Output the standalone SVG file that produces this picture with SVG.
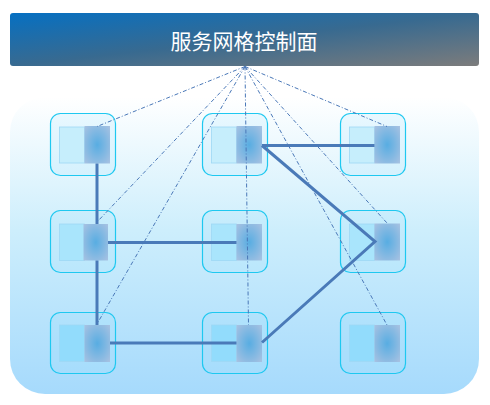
<svg xmlns="http://www.w3.org/2000/svg" width="490" height="405" viewBox="0 0 490 405">
  <defs>
    <linearGradient id="hdr" x1="0" y1="0" x2="1" y2="1">
      <stop offset="0" stop-color="#0670c2"/>
      <stop offset="0.5" stop-color="#386a90"/>
      <stop offset="1" stop-color="#7c7c7c"/>
    </linearGradient>
    <linearGradient id="panel" x1="0" y1="0" x2="0" y2="1">
      <stop offset="0" stop-color="#ffffff"/>
      <stop offset="0.45" stop-color="#cdeefc"/>
      <stop offset="1" stop-color="#a6dafc"/>
    </linearGradient>
    <radialGradient id="dark" cx="0.5" cy="0.5" r="0.7">
      <stop offset="0" stop-color="#58ade2"/>
      <stop offset="1" stop-color="#a8c2e2"/>
    </radialGradient>
    <filter id="shadow" x="-5%" y="-100%" width="110%" height="400%">
      <feDropShadow dx="0" dy="1.5" stdDeviation="1.2" flood-color="#555" flood-opacity="0.5"/>
    </filter>
  </defs>
  <style>
    .outer { fill: #8fe0ff; fill-opacity: 0.15; stroke: #1ec8f0; stroke-width: 1.2; }
    .light { stroke: #9ed8f4; stroke-width: 0.8; }
    .r1 { fill: #c6eefc; }
    .r2 { fill: #a9e5fc; }
    .r3 { fill: #92dcfc; }
    .dark { fill: url(#dark); }
    .solid { stroke: #4a7ab8; stroke-width: 3; fill: none; stroke-linejoin: miter; }
    .dash { stroke: #4a78b8; stroke-width: 1; fill: none; stroke-dasharray: 4 2 1 2; }
    .title { font-family: "Noto Sans CJK SC", "Noto Sans", sans-serif; font-size: 21px; fill: #ffffff; }
  </style>

  <g id="header">
    <rect x="10" y="13" width="469" height="53" rx="3" fill="url(#hdr)"/>
    <text class="title" x="244" y="48.5" text-anchor="middle">服务网格控制面</text>
  </g>

  <rect id="panel-bg" x="10" y="97" width="469" height="297" rx="35" fill="url(#panel)"/>

  <g id="node-0-0">
    <rect class="outer" x="50.5" y="113.5" width="65" height="62" rx="10"/>
    <rect class="light r1" x="59.5" y="127" width="25" height="36"/>
    <rect class="dark" x="84.5" y="126" width="25.5" height="37.5"/>
  </g>
  <g id="node-1-0">
    <rect class="outer" x="202.5" y="113.5" width="65" height="62" rx="10"/>
    <rect class="light r1" x="211.5" y="127" width="25" height="36"/>
    <rect class="dark" x="236.5" y="126" width="25.5" height="37.5"/>
  </g>
  <g id="node-2-0">
    <rect class="outer" x="340.5" y="113.5" width="65" height="62" rx="10"/>
    <rect class="light r1" x="349.5" y="127" width="25" height="36"/>
    <rect class="dark" x="374.5" y="126" width="25.5" height="37.5"/>
  </g>

  <g id="node-0-1">
    <rect class="outer" x="50.5" y="210.5" width="65" height="62" rx="10"/>
    <rect class="light r2" x="59.5" y="224" width="25" height="36.5"/>
    <rect class="dark" x="83.5" y="224" width="24.5" height="36.5"/>
  </g>
  <g id="node-1-1">
    <rect class="outer" x="202.5" y="210.5" width="65" height="62" rx="10"/>
    <rect class="light r2" x="211.5" y="224" width="25" height="36.5"/>
    <rect class="dark" x="236.5" y="224" width="25.5" height="36.5"/>
  </g>
  <g id="node-2-1">
    <rect class="outer" x="340.5" y="210.5" width="65" height="62" rx="10"/>
    <rect class="light r2" x="349.5" y="224" width="25" height="36.5"/>
    <rect class="dark" x="374.5" y="223.5" width="25.5" height="37"/>
  </g>

  <g id="node-0-2">
    <rect class="outer" x="50.5" y="312.5" width="65" height="61" rx="10"/>
    <rect class="light r3" x="59.5" y="325" width="25" height="36.5"/>
    <rect class="dark" x="84.5" y="325" width="25.5" height="37"/>
  </g>
  <g id="node-1-2">
    <rect class="outer" x="202.5" y="312.5" width="65" height="61" rx="10"/>
    <rect class="light r3" x="211.5" y="325" width="25" height="36.5"/>
    <rect class="dark" x="236.5" y="325" width="25.5" height="37"/>
  </g>
  <g id="node-2-2">
    <rect class="outer" x="340.5" y="312.5" width="65" height="61" rx="10"/>
    <rect class="light r3" x="349.5" y="325" width="25" height="36.5"/>
    <rect class="dark" x="374.5" y="325" width="25.5" height="37"/>
  </g>

  <g id="connectors">
    <line class="solid" x1="110" y1="145.5" x2="236.5" y2="145.5" filter="url(#shadow)"/>
    <line class="solid" x1="262" y1="145.5" x2="374.5" y2="145.5"/>
    <line class="solid" x1="97" y1="163.5" x2="97" y2="224"/>
    <line class="solid" x1="97" y1="260.5" x2="97" y2="325"/>
    <line class="solid" x1="108" y1="242.5" x2="236.5" y2="242.5"/>
    <line class="solid" x1="110" y1="343" x2="236.5" y2="343"/>
    <polyline class="solid" points="262,145.5 375,241.5 262,342.5"/>

    <line class="dash" x1="245" y1="66.5" x2="97" y2="126.5"/>
    <line class="dash" x1="245" y1="66.5" x2="97" y2="222"/>
    <line class="dash" x1="245" y1="66.5" x2="97" y2="324"/>
    <line class="dash" x1="245" y1="66.5" x2="248.5" y2="325"/>
    <line class="dash" x1="245" y1="66.5" x2="387" y2="126.5"/>
    <line class="dash" x1="245" y1="66.5" x2="387" y2="223"/>
    <line class="dash" x1="245" y1="66.5" x2="387" y2="325"/>
  </g>
</svg>
